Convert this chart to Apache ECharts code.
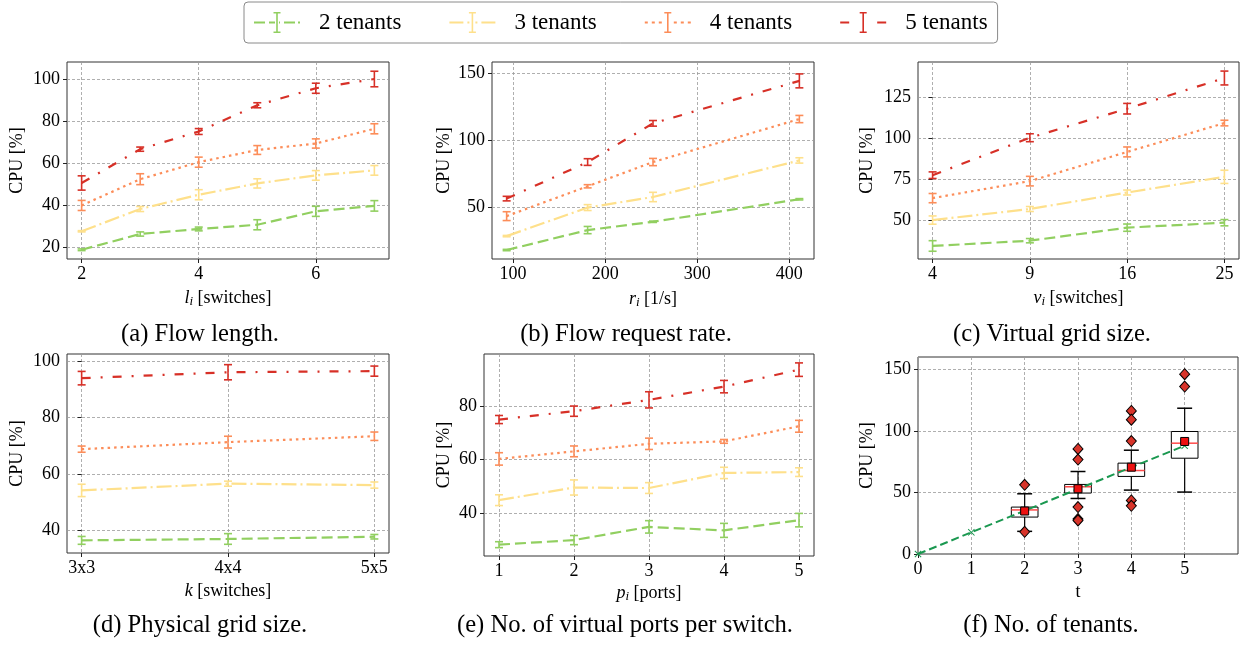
<!DOCTYPE html>
<html>
<head>
<meta charset="utf-8">
<script src="https://cdn.jsdelivr.net/npm/echarts@6/dist/echarts.min.js"></script>
<style>
html, body { margin: 0; padding: 0; background: #fff; }
#chart { width: 1248px; height: 650px; }
</style>
</head>
<body>
<div id="chart"></div>
<script>
// ---------- data ----------
const tenantNames = ['2 tenants', '3 tenants', '4 tenants', '5 tenants'];

// (a) flow length l_i [switches]
const lenX = [2, 3, 4, 5, 6, 7];
const lenCpu2 = [18.7, 26.2, 28.6, 30.6, 37.0, 39.6];
const lenErr2 = [0.4, 1.0, 0.9, 2.4, 2.4, 2.5];
const lenCpu3 = [27.5, 38.1, 44.9, 50.3, 54.1, 56.5];
const lenErr3 = [0.3, 1.2, 2.4, 2.2, 2.3, 2.3];
const lenCpu4 = [39.8, 52.3, 60.4, 66.2, 69.3, 76.3];
const lenErr4 = [2.4, 2.6, 2.4, 2.1, 2.2, 2.4];
const lenCpu5 = [50.5, 66.6, 75.0, 87.5, 95.6, 100.0];
const lenErr5 = [3.4, 1.0, 1.4, 1.2, 2.4, 3.7];
const lenTicks = [2, 4, 6];
const lenCpuTicks = [20, 40, 60, 80, 100];

// (b) flow request rate r_i [1/s]
const rateX = [93, 181, 252, 411];
const rateCpu2 = [18.3, 33.2, 39.4, 56.2];
const rateErr2 = [0.5, 2.7, 0.5, 0.5];
const rateCpu3 = [28.7, 50.0, 57.9, 85.2];
const rateErr3 = [0.5, 2.2, 3.5, 2.0];
const rateCpu4 = [43.6, 65.9, 84.0, 116.1];
const rateErr4 = [3.3, 1.2, 2.7, 2.7];
const rateCpu5 = [56.7, 84.0, 112.9, 144.6];
const rateErr5 = [1.7, 2.5, 2.1, 5.2];
const rateTicks = [100, 200, 300, 400];
const rateCpuTicks = [50, 100, 150];

// (c) virtual grid size v_i [switches]
const vgridCats = ['4', '9', '16', '25'];
const vgridCpu2 = [34.7, 37.9, 45.8, 48.8];
const vgridErr2 = [3.2, 1.3, 2.2, 1.9];
const vgridCpu3 = [50.4, 57.1, 67.1, 76.6];
const vgridErr3 = [2.5, 1.5, 1.5, 4.0];
const vgridCpu4 = [63.7, 74.0, 91.7, 109.2];
const vgridErr4 = [2.8, 2.9, 3.0, 1.7];
const vgridCpu5 = [77.6, 100.3, 117.9, 136.5];
const vgridErr5 = [2.0, 2.4, 3.2, 4.2];
const vgridCpuTicks = [50, 75, 100, 125];

// (d) physical grid size k [switches]
const pgridCats = ['3x3', '4x4', '5x5'];
const pgridCpu2 = [36.3, 36.8, 37.6];
const pgridErr2 = [1.4, 1.9, 0.8];
const pgridCpu3 = [54.1, 56.5, 56.0];
const pgridErr3 = [2.2, 0.9, 1.1];
const pgridCpu4 = [68.8, 71.3, 73.4];
const pgridErr4 = [1.1, 2.1, 1.5];
const pgridCpu5 = [94.1, 96.2, 96.6];
const pgridErr5 = [2.4, 2.7, 1.8];
const pgridCpuTicks = [40, 60, 80, 100];

// (e) virtual ports per switch p_i [ports]
const portX = [1, 2, 3, 4, 5];
const portCpu2 = [28.5, 30.2, 35.1, 33.8, 37.6];
const portErr2 = [1.1, 1.7, 2.3, 2.6, 2.5];
const portCpu3 = [45.0, 49.7, 49.5, 55.1, 55.4];
const portErr3 = [2.0, 2.8, 2.0, 2.1, 1.6];
const portCpu4 = [60.3, 63.1, 65.9, 66.8, 72.4];
const portErr4 = [2.3, 2.0, 2.1, 0.7, 2.2];
const portCpu5 = [74.9, 78.0, 82.2, 87.1, 93.4];
const portErr5 = [1.5, 1.9, 3.0, 2.3, 2.5];
const portTicks = [1, 2, 3, 4, 5];
const portCpuTicks = [40, 60, 80];

// (f) number of tenants t
const boxT = [2, 3, 4, 5];
const boxWhiskerLow = [18.4, 45.1, 51.9, 50.3];
const boxQ1 = [30.0, 49.5, 63.0, 77.8];
const boxMedian = [35.8, 54.6, 67.8, 90.0];
const boxQ3 = [38.1, 56.5, 73.8, 99.5];
const boxWhiskerHigh = [48.9, 67.0, 84.3, 118.4];
const boxMean = [34.9, 53.0, 70.5, 91.4];
const flierT = [2, 2, 3, 3, 3, 3, 3, 4, 4, 4, 4, 4, 5, 5];
const flierCpu = [56.2, 18.0, 85.3, 76.7, 38.1, 28.4, 27.3, 116.2, 109.1, 91.7, 43.5, 39.1, 146.0, 136.0];
const linT = [0, 1, 2, 3, 4, 5];
const linCpu = [0, 17.6, 35.2, 52.8, 70.4, 87.9];
const tenantTicks = [0, 1, 2, 3, 4, 5];
const tenantCpuTicks = [0, 50, 100, 150];

const captions = [
  '(a) Flow length.', '(b) Flow request rate.', '(c) Virtual grid size.',
  '(d) Physical grid size.', '(e) No. of virtual ports per switch.', '(f) No. of tenants.'
];

// ---------- styling ----------
const SERIF = "'Liberation Serif', 'Times New Roman', 'DejaVu Serif', serif";
const tenantColors = ['#91cf60', '#fee08b', '#fc8d59', '#d73027'];
const tenantDashes = [[11, 5], [15, 4, 2, 4], [2.5, 4], [9, 10, 2, 10]];
const gridLine = { color: '#9a9a9a', type: [3, 2], width: 0.8 };

const panels = [
  { box: [67, 62, 322, 197], x: [1.75, 7.25], y: [14.3, 108.1], xTicks: lenTicks, yTicks: lenCpuTicks,
    xName: '{it|l}{sub|i} [switches]', xGap: 29, yGap: 40 },
  { box: [492, 62, 322, 197], x: [77.1, 426.9], y: [11.6, 158.7], xTicks: rateTicks, yTicks: rateCpuTicks,
    xName: '{it|r}{sub|i} [1/s]', xGap: 30, yGap: 38 },
  { box: [918, 62, 321, 197], x: [-0.15, 3.15], y: [26.8, 146.2], xTicks: vgridCats.map((_, i) => i),
    xFmt: v => vgridCats[Math.round(v)], yTicks: vgridCpuTicks, xName: '{it|v}{sub|i} [switches]', xGap: 29, yGap: 41 },
  { box: [67, 354, 322, 199], x: [-0.1, 2.1], y: [31.8, 102.7], xTicks: pgridCats.map((_, i) => i),
    xFmt: v => pgridCats[Math.round(v)], yTicks: pgridCpuTicks, xName: '{it|k} [switches]', xGap: 28, yGap: 40 },
  { box: [484, 354, 330, 202], x: [0.8, 5.2], y: [24.3, 99.2], xTicks: portTicks, yTicks: portCpuTicks,
    xName: '{it|p}{sub|i} [ports]', xGap: 27, yGap: 30 },
  { box: [918, 357, 320, 197], x: [0, 6], y: [0, 160], xTicks: tenantTicks, yTicks: tenantCpuTicks,
    xName: 't', xGap: 28, yGap: 41 }
];
const captionX = [200, 626, 1052, 200, 625, 1051];
const captionTop = [322, 322, 322, 613, 613, 613];

const nameStyle = {
  fontFamily: SERIF, fontSize: 18, color: '#000', lineHeight: 20,
  rich: {
    it: { fontFamily: SERIF, fontSize: 18, fontStyle: 'italic', color: '#000', lineHeight: 20 },
    sub: { fontFamily: SERIF, fontSize: 13, fontStyle: 'italic', color: '#000', verticalAlign: 'bottom', lineHeight: 12 }
  }
};

const grid = [], xAxis = [], yAxis = [];
panels.forEach((p, i) => {
  grid.push({ left: p.box[0], top: p.box[1], width: p.box[2], height: p.box[3],
    show: true, borderColor: '#333', borderWidth: 1, backgroundColor: 'transparent',
    containLabel: false, outerBoundsMode: 'none' });
  const xLabel = { customValues: p.xTicks, margin: 6, fontFamily: SERIF, fontSize: 18, color: '#000' };
  if (p.xFmt) xLabel.formatter = p.xFmt;
  xAxis.push({
    gridIndex: i, type: 'value', min: p.x[0], max: p.x[1],
    name: p.xName, nameLocation: 'middle', nameGap: p.xGap, nameTextStyle: nameStyle,
    axisLine: { show: false },
    axisTick: { show: true, length: 4, customValues: p.xTicks, lineStyle: { color: '#222', width: 1 } },
    axisLabel: xLabel,
    splitLine: { show: true, lineStyle: gridLine }
  });
  yAxis.push({
    gridIndex: i, type: 'value', min: p.y[0], max: p.y[1],
    name: 'CPU [%]', nameLocation: 'middle', nameGap: p.yGap,
    nameTextStyle: { fontFamily: SERIF, fontSize: 18, color: '#000', lineHeight: 20 },
    axisLine: { show: false },
    axisTick: { show: true, length: 4, customValues: p.yTicks, lineStyle: { color: '#222', width: 1 } },
    axisLabel: { customValues: p.yTicks, margin: 7, fontFamily: SERIF, fontSize: 18, color: '#000' },
    splitLine: { show: true, lineStyle: gridLine }
  });
});

// ---------- series builders ----------
function tenantLine(panel, k, xs, ys) {
  return {
    type: 'line', name: tenantNames[k], xAxisIndex: panel, yAxisIndex: panel,
    color: tenantColors[k], symbol: 'none', showSymbol: false, silent: true, z: 3,
    data: xs.map((x, i) => [x, ys[i]]),
    lineStyle: { color: tenantColors[k], width: 2.2, type: tenantDashes[k], cap: 'butt' }
  };
}

function errorBars(panel, k, xs, ys, errs) {
  const color = tenantColors[k];
  return {
    type: 'custom', name: tenantNames[k], xAxisIndex: panel, yAxisIndex: panel,
    color: color, silent: true, z: 4,
    data: xs.map((x, i) => [x, ys[i] - errs[i], ys[i] + errs[i]]),
    encode: { x: 0, y: [1, 2] },
    renderItem(params, api) {
      const lo = api.coord([api.value(0), api.value(1)]);
      const hi = api.coord([api.value(0), api.value(2)]);
      const cap = 4;
      const st = { stroke: color, lineWidth: 1.6 };
      return {
        type: 'group', children: [
          { type: 'line', shape: { x1: lo[0], y1: lo[1], x2: hi[0], y2: hi[1] }, style: st },
          { type: 'line', shape: { x1: lo[0] - cap, y1: lo[1], x2: lo[0] + cap, y2: lo[1] }, style: st },
          { type: 'line', shape: { x1: hi[0] - cap, y1: hi[1], x2: hi[0] + cap, y2: hi[1] }, style: st }
        ]
      };
    }
  };
}

const linePanels = [
  [lenX, [lenCpu2, lenCpu3, lenCpu4, lenCpu5], [lenErr2, lenErr3, lenErr4, lenErr5]],
  [rateX, [rateCpu2, rateCpu3, rateCpu4, rateCpu5], [rateErr2, rateErr3, rateErr4, rateErr5]],
  [vgridCats.map((_, i) => i), [vgridCpu2, vgridCpu3, vgridCpu4, vgridCpu5], [vgridErr2, vgridErr3, vgridErr4, vgridErr5]],
  [pgridCats.map((_, i) => i), [pgridCpu2, pgridCpu3, pgridCpu4, pgridCpu5], [pgridErr2, pgridErr3, pgridErr4, pgridErr5]],
  [portX, [portCpu2, portCpu3, portCpu4, portCpu5], [portErr2, portErr3, portErr4, portErr5]]
];

const series = [];
linePanels.forEach(([xs, ysList], panel) => {
  ysList.forEach((ys, k) => series.push(tenantLine(panel, k, xs, ys)));
});
linePanels.forEach(([xs, ysList, errList], panel) => {
  ysList.forEach((ys, k) => series.push(errorBars(panel, k, xs, ys, errList[k])));
});

// (f) box plots of CPU per tenant count
series.push({
  type: 'custom', xAxisIndex: 5, yAxisIndex: 5, silent: true, z: 3,
  data: boxT.map((t, i) => [t, boxWhiskerLow[i], boxQ1[i], boxMedian[i], boxQ3[i], boxWhiskerHigh[i]]),
  encode: { x: 0, y: [1, 5] },
  renderItem(params, api) {
    const t = api.value(0);
    const lo = api.coord([t, api.value(1)]);
    const q1 = api.coord([t, api.value(2)]);
    const md = api.coord([t, api.value(3)]);
    const q3 = api.coord([t, api.value(4)]);
    const hi = api.coord([t, api.value(5)]);
    const bw = api.size([0.5, 0])[0] / 2;
    const cw = api.size([0.28, 0])[0] / 2;
    const x = lo[0];
    const k = { stroke: '#000', lineWidth: 1.2 };
    return {
      type: 'group', children: [
        { type: 'line', shape: { x1: x, y1: lo[1], x2: x, y2: q1[1] }, style: k },
        { type: 'line', shape: { x1: x, y1: q3[1], x2: x, y2: hi[1] }, style: k },
        { type: 'line', shape: { x1: x - cw, y1: lo[1], x2: x + cw, y2: lo[1] }, style: { stroke: '#000', lineWidth: 1.5 } },
        { type: 'line', shape: { x1: x - cw, y1: hi[1], x2: x + cw, y2: hi[1] }, style: { stroke: '#000', lineWidth: 1.5 } },
        { type: 'rect', shape: { x: x - bw, y: q3[1], width: 2 * bw, height: q1[1] - q3[1] },
          style: { fill: '#fff', stroke: '#000', lineWidth: 1 } },
        { type: 'line', shape: { x1: x - bw, y1: md[1], x2: x + bw, y2: md[1] }, style: { stroke: '#ff4a4a', lineWidth: 1.5 } }
      ]
    };
  }
});
series.push({
  type: 'line', xAxisIndex: 5, yAxisIndex: 5, silent: true, z: 5,
  data: linT.map((t, i) => [t, linCpu[i]]),
  color: '#1a9850',
  symbol: 'path://M0,1L1,0L5,4L9,0L10,1L6,5L10,9L9,10L5,6L1,10L0,9L4,5Z', symbolSize: 7, showSymbol: true,
  itemStyle: { color: '#1a9850' },
  lineStyle: { color: '#1a9850', width: 2, type: [8, 4] }
});
series.push({
  type: 'scatter', xAxisIndex: 5, yAxisIndex: 5, silent: true, z: 6,
  data: flierT.map((t, i) => [t, flierCpu[i]]),
  symbol: 'diamond', symbolSize: [10, 11],
  itemStyle: { color: '#d8342a', borderColor: '#000', borderWidth: 1, opacity: 1 }
});
series.push({
  type: 'scatter', xAxisIndex: 5, yAxisIndex: 5, silent: true, z: 7,
  data: boxT.map((t, i) => [t, boxMean[i]]),
  symbol: 'rect', symbolSize: 8,
  itemStyle: { color: '#ee1111', borderColor: '#000', borderWidth: 1, opacity: 1 }
});

// ---------- legend icons: dashed stroke with an error-bar "I" ----------
function iconPath(segs) {
  let d = 'M22.2 0h1.6v21h-1.6zM19.5 0h7v1.6h-7zM19.5 19.4h7v1.6h-7z';
  segs.forEach(([a, b]) => { d += `M${a} 9.6h${b - a}v1.8h${a - b}z`; });
  return 'path://' + d;
}
const legendIcons = [
  iconPath([[0, 11], [15, 21], [25, 26], [30, 41], [44, 46]]),
  iconPath([[0, 14], [18, 20], [26, 28], [32, 46]]),
  iconPath([[0, 3], [7, 10], [14, 17], [29, 32], [36, 39], [43, 46]]),
  iconPath([[0, 9], [37, 46]])
];

const option = {
  animation: false,
  backgroundColor: '#fff',
  title: captions.map((c, i) => ({
    text: c, left: captionX[i], top: captionTop[i], textAlign: 'center', padding: 0,
    textStyle: { fontFamily: SERIF, fontSize: 24.6, fontWeight: 'normal', color: '#000' }
  })),
  legend: {
    left: 244, top: 2, padding: [9, 10, 9, 10], itemGap: 48, itemWidth: 46, itemHeight: 21,
    borderColor: '#8a8a8a', borderWidth: 1, borderRadius: 4, backgroundColor: '#fff',
    selectedMode: false,
    itemStyle: { borderWidth: 0 },
    textStyle: { fontFamily: SERIF, fontSize: 23, color: '#000', padding: [0, 0, 0, 14] },
    data: tenantNames.map((n, k) => ({ name: n, icon: legendIcons[k] }))
  },
  grid, xAxis, yAxis, series
};

const chart = echarts.init(document.getElementById('chart'), null, { renderer: 'canvas' });
chart.setOption(option);
</script>
</body>
</html>
